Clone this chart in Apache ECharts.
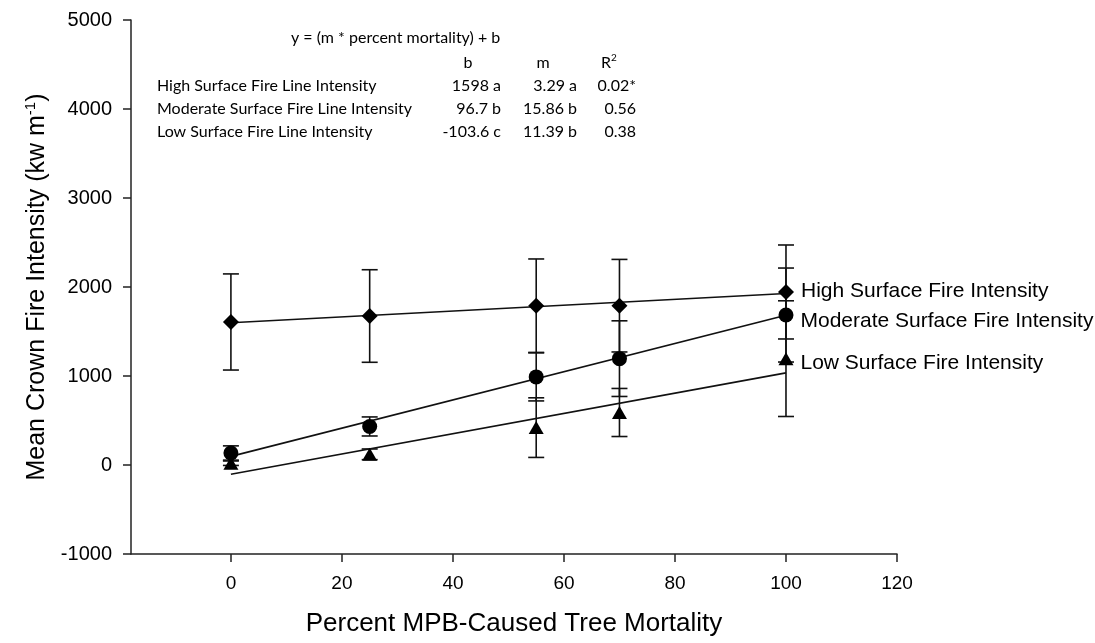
<!DOCTYPE html>
<html><head><meta charset="utf-8">
<script src="https://cdn.jsdelivr.net/npm/echarts@6/dist/echarts.min.js"></script>
<style>html,body{margin:0;padding:0;background:#fff}#c{width:1095px;height:643px}</style>
</head><body><div id="c"></div>
<script>
// ---- data ----
const xValues = [0, 25, 55, 70, 100];
const highMean = [1607, 1674, 1790, 1790, 1944];
const highErr  = [540, 520, 525, 520, 528];
const modMean  = [135, 433, 990, 1195, 1685];
const modErr   = [80, 107, 270, 425, 528];
const lowMean  = [20, 120, 420, 590, 1195];
const lowErr   = [25, 60, 335, 270, 650];
const fitX     = [0, 100];
const highFit  = [1598, 1927];
const modFit   = [96.7, 1682.7];
const lowFit   = [-103.6, 1035.4];
const seriesNames = ['High Surface Fire Intensity', 'Moderate Surface Fire Intensity', 'Low Surface Fire Intensity'];
const xTicks = [0, 20, 40, 60, 80, 100, 120];
const tableTitle = 'y = (m * percent mortality) + b';
const tableHeads = ['b', 'm', 'R'];
const tableRows = ['High Surface Fire Line Intensity', 'Moderate Surface Fire Line Intensity', 'Low Surface Fire Line Intensity'];
const tableB  = ['1598 a', '96.7 b', '-103.6 c'];
const tableM  = ['3.29 a', '15.86 b', '11.39 b'];
const tableR2 = ['0.02*', '0.56', '0.38'];

const INK = '#000';
const FONT = 'Liberation Sans';
const TFONT = 'Lato';

function errData(mean, err) { return xValues.map((x, i) => [x, mean[i] - err[i], mean[i] + err[i]]); }
function errRender(params, api) {
  const x = api.value(0), lo = api.value(1), hi = api.value(2);
  const p1 = api.coord([x, hi]), p2 = api.coord([x, lo]);
  const w = 8;
  const style = { stroke: '#111', lineWidth: 1.6, fill: null };
  return { type: 'group', children: [
    { type: 'line', shape: { x1: p1[0], y1: p1[1], x2: p2[0], y2: p2[1] }, style },
    { type: 'line', shape: { x1: p1[0] - w, y1: p1[1], x2: p1[0] + w, y2: p1[1] }, style },
    { type: 'line', shape: { x1: p2[0] - w, y1: p2[1], x2: p2[0] + w, y2: p2[1] }, style }
  ]};
}
function pointData(mean, name, offY) {
  return xValues.map((x, i) => i === xValues.length - 1
    ? { value: [x, mean[i]], label: { show: true, position: 'right', distance: 7, offset: [0, offY],
        formatter: name, fontFamily: FONT, fontSize: 21, color: INK, opacity: 1 } }
    : [x, mean[i]]);
}
function fitData(f) { return fitX.map((x, i) => [x, f[i]]); }

const groups = [
  { mean: highMean, err: highErr, fit: highFit, sym: 'diamond', size: [16, 16], name: seriesNames[0], offY: -1 },
  { mean: modMean, err: modErr, fit: modFit, sym: 'circle', size: 15, name: seriesNames[1], offY: 6 },
  { mean: lowMean, err: lowErr, fit: lowFit, sym: 'triangle', size: [15, 13], name: seriesNames[2], offY: 5 }
];
const series = [];
groups.forEach(g => {
  series.push({ type: 'custom', renderItem: errRender, data: errData(g.mean, g.err),
    encode: { x: 0, y: [1, 2] }, z: 2, silent: true });
  series.push({ type: 'line', data: fitData(g.fit), symbol: 'none', z: 3, silent: true,
    lineStyle: { color: '#111', width: 1.6 } });
  series.push({ type: 'scatter', data: pointData(g.mean, g.name, g.offY), symbol: g.sym,
    symbolSize: g.size, itemStyle: { color: '#000', opacity: 1 }, z: 4, silent: true });
});

const tStyle = { fontFamily: TFONT, fontSize: 16, fill: '#000', textVerticalAlign: 'middle' };
const graphic = [];
graphic.push({ type: 'text', x: 291, y: 38, style: Object.assign({ text: tableTitle }, tStyle) });
const rowY = [86, 109, 132];
const colB = 501, colM = 577, colR = 636;
graphic.push({ type: 'text', x: 468, y: 63, style: Object.assign({ text: tableHeads[0], textAlign: 'center' }, tStyle) });
graphic.push({ type: 'text', x: 543, y: 63, style: Object.assign({ text: tableHeads[1], textAlign: 'center' }, tStyle) });
graphic.push({ type: 'text', x: 609, y: 63, style: Object.assign({}, tStyle, { text: '{a|R}{s|2}', textAlign: 'center',
  rich: { a: { fontFamily: TFONT, fontSize: 16 }, s: { fontFamily: TFONT, fontSize: 10, padding: [0, 0, 10, 0] } } }) });
tableRows.forEach((r, i) => {
  graphic.push({ type: 'text', x: 157, y: rowY[i], style: Object.assign({ text: r }, tStyle) });
  graphic.push({ type: 'text', x: colB, y: rowY[i], style: Object.assign({ text: tableB[i], textAlign: 'right' }, tStyle) });
  graphic.push({ type: 'text', x: colM, y: rowY[i], style: Object.assign({ text: tableM[i], textAlign: 'right' }, tStyle) });
  graphic.push({ type: 'text', x: colR, y: rowY[i], style: Object.assign({ text: tableR2[i], textAlign: 'right' }, tStyle) });
});

const chart = echarts.init(document.getElementById('c'), null, { renderer: 'canvas' });
chart.setOption({
  animation: false,
  backgroundColor: '#fff',
  grid: { left: 131, right: 198, top: 20, bottom: 89, containLabel: false },
  xAxis: {
    type: 'value', min: -18, max: 120,
    name: 'Percent MPB-Caused Tree Mortality', nameLocation: 'middle', nameGap: 57,
    nameTextStyle: { fontFamily: FONT, fontSize: 26, color: INK },
    axisLine: { show: true, onZero: false, lineStyle: { color: '#222', width: 1.5 } },
    axisTick: { show: true, length: 8, customValues: xTicks, lineStyle: { color: '#222', width: 1.5 } },
    axisLabel: { customValues: xTicks, margin: 20, fontFamily: FONT, fontSize: 19, color: INK },
    splitLine: { show: false }
  },
  yAxis: {
    type: 'value', min: -1000, max: 5000, interval: 1000,
    name: 'Mean Crown Fire Intensity (kw m{sup|-1})', nameLocation: 'middle', nameGap: 70,
    nameTextStyle: { fontFamily: FONT, fontSize: 25, color: INK,
      rich: { sup: { fontFamily: FONT, fontSize: 15, color: INK, padding: [0, 0, 13, 0] } } },
    axisLine: { show: true, onZero: false, lineStyle: { color: '#222', width: 1.5 } },
    axisTick: { show: true, length: 8, lineStyle: { color: '#222', width: 1.5 } },
    axisLabel: { margin: 19, fontFamily: FONT, fontSize: 20, color: INK, formatter: v => String(v) },
    splitLine: { show: false }
  },
  graphic: graphic,
  series: series
});
</script>
</body></html>
